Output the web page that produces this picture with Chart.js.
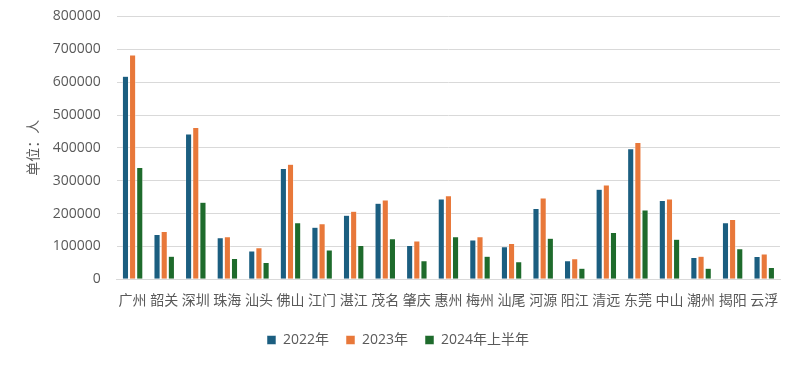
<!DOCTYPE html>
<html>
<head>
<meta charset="utf-8">
<script src="https://cdn.jsdelivr.net/npm/chart.js@4/dist/chart.umd.min.js"></script>
<style>
    html, body { margin: 0; padding: 0; background: #fff; }
    #wrap { width: 800px; height: 365px; }
</style>
</head>
<body>
<div id="wrap"><canvas id="chart"></canvas></div>
<script>
// Cities (categories)
const cities = ['广州', '韶关', '深圳', '珠海', '汕头', '佛山', '江门', '湛江', '茂名', '肇庆', '惠州',
    '梅州', '汕尾', '河源', '阳江', '清远', '东莞', '中山', '潮州', '揭阳', '云浮'];

// Series values
const y2022 = [618000, 136000, 442000, 126000, 86000, 337000, 158000, 195000, 231000, 103000, 244000,
    119000, 99000, 215000, 56000, 274000, 397000, 240000, 66000, 172000, 69000];
const y2023 = [683000, 145000, 462000, 129000, 96000, 350000, 169000, 207000, 241000, 116000, 254000,
    129000, 109000, 247000, 62000, 287000, 416000, 244000, 70000, 182000, 77000];
const y2024h1 = [340000, 70000, 234000, 63000, 51000, 172000, 89000, 103000, 123000, 56000, 129000,
    70000, 53000, 125000, 33000, 142000, 211000, 122000, 33000, 93000, 36000];

const seriesNames = ['2022年', '2023年', '2024年上半年'];
const yTicks = [0, 100000, 200000, 300000, 400000, 500000, 600000, 700000, 800000];

const font = '"Open Sans", "Noto Sans CJK SC", sans-serif';
const cjkFont = '"Noto Sans CJK SC", sans-serif';
const textColor = '#595959';

const mkSet = (label, data, color) => ({
    label,
    data,
    backgroundColor: color,
    borderColor: '#ffffff',
    borderWidth: 0.5,
    categoryPercentage: 0.68,
    barPercentage: 0.86
});

new Chart(document.getElementById('chart'), {
    type: 'bar',
    data: {
        labels: cities,
        datasets: [
            mkSet(seriesNames[0], y2022, '#1b5e80'),
            mkSet(seriesNames[1], y2023, '#e8783a'),
            mkSet(seriesNames[2], y2024h1, '#1e6b2c')
        ]
    },
    options: {
        responsive: true,
        maintainAspectRatio: false,
        animation: false,
        layout: { padding: { left: 16, right: 20, top: 0, bottom: 8 } },
        plugins: {
            tooltip: { enabled: false },
            legend: {
                position: 'bottom',
                labels: {
                    color: textColor,
                    font: { family: font, size: 14 },
                    boxWidth: 9,
                    boxHeight: 9,
                    padding: 17
                }
            }
        },
        scales: {
            x: {
                // a little extra room between the city names and the legend
                afterFit: axis => { axis.height += 4; },
                grid: { display: false },
                border: { color: '#d9d9d9' },
                ticks: {
                    color: textColor,
                    font: { family: cjkFont, size: 14 },
                    maxRotation: 0,
                    autoSkip: false,
                    padding: 4
                }
            },
            y: {
                min: 0,
                max: 800000,
                afterBuildTicks: axis => { axis.ticks = yTicks.map(v => ({ value: v })); },
                // tick padding also gets added on top; keep the plot top where the original has it
                afterFit: axis => { axis.paddingTop = 16.5; },
                grid: { color: '#d9d9d9', lineWidth: 1, drawTicks: false },
                border: { display: false },
                ticks: {
                    color: textColor,
                    font: { family: font, size: 14 },
                    padding: 16,
                    callback: v => String(v)
                },
                title: {
                    display: true,
                    text: '单位：人',
                    color: textColor,
                    font: { family: cjkFont, size: 14 },
                    padding: { top: 8, bottom: -4 }
                }
            }
        }
    }
});
</script>
</body>
</html>
